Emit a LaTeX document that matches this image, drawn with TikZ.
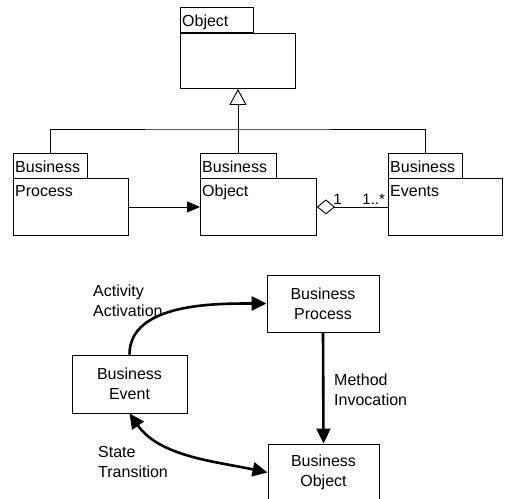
\documentclass[tikz,border=0pt]{standalone}
\usepackage{fontspec}
\setmainfont{Liberation Sans}
\usetikzlibrary{arrows.meta}
\tikzset{
  x=1pt, y=-1pt,
  thin line/.style={line width=0.9pt},
  tabbox/.style={draw, thin line, anchor=north west, minimum height=25pt,
    inner sep=0pt},
  classbody/.style={draw, thin line, anchor=north west, inner sep=0pt},
  classtext/.style={anchor=base west, inner sep=0pt,
    font=\fontsize{16}{19}\selectfont},
  flowbox/.style={draw, thin line, align=center, inner sep=0pt,
    font=\fontsize{16}{20}\selectfont},
  flowlabel/.style={align=left, inner sep=0pt, anchor=west,
    font=\fontsize{16}{20}\selectfont},
  mult/.style={inner sep=0pt, anchor=south west,
    font=\fontsize{15}{18}\selectfont},
  heavy/.style={line width=2.6pt, -{Triangle[length=15pt,width=14pt]}},
  heavyboth/.style={line width=2.6pt,
    {Triangle[length=15pt,width=14pt]}-{Triangle[length=15pt,width=14pt]}},
}
\begin{document}
\begin{tikzpicture}
\useasboundingbox (0,0) rectangle (506,498);
\clip (0,0) rectangle (506,498);

% ---- class diagram ----
% superclass
\node[tabbox, minimum width=73pt] (otab) at (180,7) {};
\node[classtext] (otxt) at (182,26) {Object};
\node[classbody, minimum width=115pt, minimum height=55pt] (obj) at (180,33) {};

% subclasses
\node[tabbox, minimum width=74pt] (ptab) at (13,153) {};
\node[classtext] (ptabtxt) at (15,172) {Business};
\node[classbody, minimum width=115pt, minimum height=57pt] (pbody) at (13,178) {};
\node[classtext] (ptxt) at (15,196) {Process};

\node[tabbox, minimum width=76pt] (mtab) at (200,153) {};
\node[classtext] (mtabtxt) at (202,172) {Business};
\node[classbody, minimum width=116pt, minimum height=57pt] (mbody) at (200,178) {};
\node[classtext] (mtxt) at (202,196) {Object};

\node[tabbox, minimum width=74pt] (etab) at (388,153) {};
\node[classtext] (etabtxt) at (390,172) {Business};
\node[classbody, minimum width=114pt, minimum height=57pt] (ebody) at (388,178) {};
\node[classtext] (etxt) at (390,196) {Events};

% generalization tree
\coordinate (bus) at (237.5,129);
\draw[thin line] (ptab.north) |- (bus) -| (etab.north);
\draw[thin line, -{Triangle[open,length=16pt,width=17pt,line width=0.9pt]}]
  (mtab.north -| obj.south) -- (obj.south);

% association and aggregation
\draw[thin line, -{Triangle[length=13pt,width=11pt]}] (pbody.east) -- (mbody.west);
\draw[thin line, {Diamond[open,length=18pt,width=15pt,line width=0.9pt]}-]
  (mbody.east) -- (ebody.west)
  node[mult, pos=0.0, xshift=16pt, yshift=2pt] (m1) {1}
  node[mult, pos=1.0, xshift=-26pt, yshift=2pt] (m2) {1..*};

% ---- collaboration diagram ----
\node[flowbox, minimum width=112pt, minimum height=57pt] (bp) at (323,303.5)
  {Business\\Process};
\node[flowbox, minimum width=111pt, minimum height=57pt] (bo) at (323.5,472.5)
  {Business\\Object};
\node[flowbox, minimum width=115pt, minimum height=58pt] (be) at (129.5,384)
  {Business\\Event};

\draw[heavy] (be.north) to[out=90, in=180, looseness=0.9] (bp.west);
\draw[heavy] (bp.south) -- (bo.north);
\draw[heavyboth] (be.south) to[out=-55, in=168, looseness=0.9] (bo.west);

\node[flowlabel] (lact) at (93,301) {Activity\\Activation};
\node[flowlabel] (lmeth) at (334,390) {Method\\Invocation};
\node[flowlabel] (lstate) at (98,462) {State\\Transition};
\end{tikzpicture}
\end{document}
